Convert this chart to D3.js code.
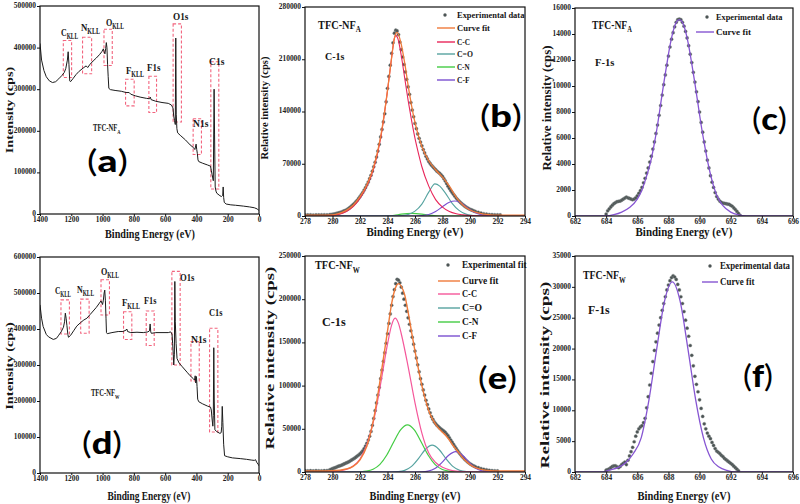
<!DOCTYPE html>
<html><head><meta charset="utf-8">
<script src="https://cdn.jsdelivr.net/npm/d3@7"></script>
<style>body{margin:0;background:#fff}svg{display:block}</style>
</head><body>
<svg id="c" width="800" height="504"></svg>
<script>
// ---------------- DATA ----------------
const surveyXTicks = [1400,1200,1000,800,600,400,200,0];
const ticksYA = [0,100000,200000,300000,400000,500000];
const ticksYD = [0,100000,200000,300000,400000,500000,600000];
const c1sXTicks = [278,280,282,284,286,288,290,292,294];
const f1sXTicks = [682,684,686,688,690,692,694,696];
const ticksYB = [0,70000,140000,210000,280000];
const ticksYC = [0,2000,4000,6000,8000,10000,12000,14000,16000];
const ticksYE = [0,50000,100000,150000,200000,250000];
const ticksYF = [0,5000,10000,15000,20000,25000,30000,35000];

const surveyA = [[1400,410000],[1390,370000],[1375,345000],[1360,330000],[1340,320000],[1320,316000],[1300,318000],[1280,325000],[1260,333000],[1245,340000],[1235,350000],[1225,370000],[1220,390000],[1215,360000],[1210,320000],[1205,318000],[1190,325000],[1170,335000],[1150,343000],[1120,352000],[1105,356000],[1095,352000],[1080,360000],[1060,368000],[1040,375000],[1020,383000],[1005,390000],[995,397000],[990,390000],[985,385000],[980,398000],[976,412000],[972,400000],[968,360000],[964,330000],[960,302000],[950,299000],[920,297000],[880,295000],[850,292000],[830,292000],[820,288000],[790,284000],[760,281000],[720,278000],[700,277000],[695,281000],[690,275000],[660,271000],[620,268000],[580,266000],[560,262000],[550,255000],[545,235000],[540,225000],[535,215000],[532,423000],[529,240000],[525,205000],[520,195000],[500,188000],[470,178000],[440,166000],[420,160000],[410,155000],[402,168000],[398,155000],[394,145000],[390,130000],[385,126000],[360,122000],[330,118000],[310,115000],[305,105000],[300,95000],[292,80000],[287,300000],[284,190000],[280,65000],[275,55000],[270,50000],[250,44000],[240,42000],[232,45000],[229,65000],[226,40000],[222,28000],[210,24000],[180,22000],[150,21000],[100,19000],[60,17000],[30,15000],[10,12000],[0,8000]];

const surveyD = [[1400,467000],[1390,430000],[1380,407000],[1360,385000],[1345,378000],[1315,371000],[1295,374000],[1283,381000],[1265,392000],[1250,405000],[1243,420000],[1238,444000],[1233,430000],[1228,410000],[1222,385000],[1218,377000],[1205,382000],[1185,395000],[1165,408000],[1140,418000],[1120,425000],[1100,430000],[1080,440000],[1060,450000],[1040,460000],[1020,472000],[1010,478000],[1000,468000],[995,480000],[990,500000],[986,508000],[982,480000],[978,430000],[975,390000],[970,387000],[940,390000],[900,393000],[870,393000],[850,397000],[845,400000],[840,393000],[820,390000],[780,391000],[740,390000],[710,392000],[700,395000],[696,414000],[692,392000],[688,388000],[660,390000],[620,390000],[580,390000],[565,392000],[556,386000],[552,360000],[548,330000],[545,300000],[541,330000],[538,532000],[535,420000],[530,360000],[524,318000],[510,305000],[490,295000],[460,280000],[440,270000],[420,262000],[412,258000],[408,270000],[404,250000],[400,268000],[396,240000],[392,205000],[385,198000],[360,192000],[330,186000],[310,183000],[305,175000],[300,150000],[295,130000],[292,160000],[289,348000],[286,200000],[282,120000],[270,115000],[250,110000],[242,112000],[238,130000],[235,185000],[231,140000],[226,80000],[220,48000],[200,45000],[170,42000],[120,40000],[80,38000],[50,36000],[30,35000],[22,37000],[15,30000],[5,24000],[0,20000]];

// dashed boxes: [BE high, BE low, I high, I low]
const boxesA = [[1251,1198,417000,328000],[1128,1070,425000,337000],[991,938,444000,357000],[853,798,324000,260000],[704,655,331000,244000],[549,496,457000,221000],[421,368,229000,143000],[308,257,366000,60000]];
const boxesD = [[1266,1212,481000,386000],[1140,1086,483000,388000],[1010,956,537000,439000],[866,813,448000,371000],[721,670,450000,354000],[557,504,560000,300000],[435,382,365000,256000],[316,263,402000,114000]];

const expB = [[278,1500],[278.2,1400],[278.4,1500],[278.6,1300],[278.8,1500],[279,1400],[279.2,1500],[279.4,1600],[279.6,1500],[279.8,1800],[279.9,2000],[280,2200],[280.1,2600],[280.2,3000],[280.3,3500],[280.4,4000],[280.5,4500],[280.6,5000],[280.7,5700],[280.8,6500],[280.9,7200],[281,8000],[281.1,9200],[281.2,10500],[281.3,12000],[281.4,13500],[281.5,15200],[281.6,17000],[281.7,19000],[281.8,21000],[281.9,23500],[282,26000],[282.1,28700],[282.2,31500],[282.3,34700],[282.4,38000],[282.5,41700],[282.6,45500],[282.7,50000],[282.8,54500],[282.9,60000],[283,66000],[283.1,72000],[283.2,79000],[283.3,87000],[283.4,96000],[283.5,106000],[283.6,116000],[283.7,126000],[283.8,137000],[283.9,153000],[284,171000],[284.1,187000],[284.2,202000],[284.3,218000],[284.4,232000],[284.5,245000],[284.6,249000],[284.7,248000],[284.8,243000],[284.9,233000],[285,223000],[285.1,213000],[285.2,203000],[285.3,193000],[285.4,183000],[285.5,173000],[285.6,163000],[285.7,152000],[285.8,142000],[285.9,133000],[286,124000],[286.1,117000],[286.2,110000],[286.3,104000],[286.4,99000],[286.5,94000],[286.6,89000],[286.7,84500],[286.8,80000],[286.9,76500],[287,73000],[287.1,70500],[287.2,68000],[287.3,66000],[287.4,64000],[287.5,62000],[287.6,60000],[287.7,58500],[287.8,57000],[287.9,55000],[288,53000],[288.1,50000],[288.2,47000],[288.3,43500],[288.4,40000],[288.5,37000],[288.6,34000],[288.7,31500],[288.8,29000],[288.9,26500],[289,24000],[289.1,22000],[289.2,20000],[289.3,18200],[289.4,16500],[289.5,15000],[289.6,13500],[289.7,12200],[289.8,11000],[289.9,10000],[290,9000],[290.1,8200],[290.2,7500],[290.3,6700],[290.4,6000],[290.6,5000],[290.8,4000],[291,3000],[291.2,2500],[291.4,2000],[291.6,1800],[291.8,1600],[292,1500],[292.2,1400]];
const fitB = [[278,1200],[279,1200],[280,1500],[280.5,3500],[281,7500],[281.5,14500],[282,26000],[282.5,42000],[283,66000],[283.5,106000],[284,168000],[284.25,205000],[284.5,238000],[284.7,246000],[285,230000],[285.25,205000],[285.5,175000],[285.75,148000],[286,125000],[286.5,93000],[287,74000],[287.5,62000],[288,52000],[288.5,40000],[289,25000],[289.5,14500],[290,8000],[290.5,4500],[291,2500],[291.5,1600],[292,1300],[293,1200],[294,1200]];
const ccB = [[278,0],[279,0],[280,800],[280.5,2500],[281,6000],[281.5,12500],[282,24000],[282.5,40000],[283,64000],[283.5,104000],[284,168000],[284.25,205000],[284.5,238000],[284.6,242000],[284.75,238000],[285,215000],[285.25,185000],[285.5,155000],[285.75,128000],[286,104000],[286.25,84000],[286.5,66000],[287,40000],[287.5,22000],[288,12000],[288.5,6000],[289,3000],[289.5,1500],[290,500],[291,0],[294,0]];
const coB = [[278,0],[284.5,0],[285,500],[285.5,2000],[286,6500],[286.5,16000],[287,32000],[287.45,43000],[287.8,40000],[288.2,31000],[288.7,17000],[289.2,7500],[289.7,2500],[290.2,700],[290.8,0],[294,0]];
const cnB = [[278,0],[283.5,0],[284,200],[284.5,1000],[285,2500],[285.8,3500],[286.5,2500],[287,1200],[287.5,400],[288,0],[294,0]];
const cfB = [[278,0],[286,0],[286.5,500],[287,2000],[287.5,6000],[288,12500],[288.5,18500],[288.9,20000],[289.3,18000],[289.8,11000],[290.3,5000],[290.8,1800],[291.3,500],[292,0],[294,0]];

const expC = [[684,150],[684.1,400],[684.2,550],[684.3,700],[684.4,830],[684.5,950],[684.6,1030],[684.7,1100],[684.8,1130],[684.9,1150],[685,1220],[685.1,1300],[685.2,1380],[685.3,1450],[685.4,1400],[685.5,1350],[685.6,1300],[685.7,1250],[685.8,1300],[685.9,1400],[686,1550],[686.1,1750],[686.2,1950],[686.3,2200],[686.4,2550],[686.5,2900],[686.6,3300],[686.7,3700],[686.8,4150],[686.9,4600],[687,5150],[687.1,5700],[687.2,6350],[687.3,7000],[687.4,7750],[687.5,8500],[687.6,9300],[687.7,10100],[687.8,10850],[687.9,11600],[688,12300],[688.1,13000],[688.2,13600],[688.3,14100],[688.4,14550],[688.5,14900],[688.6,15100],[688.7,15150],[688.8,15100],[688.9,14900],[689,14600],[689.1,14200],[689.2,13700],[689.3,13100],[689.4,12450],[689.5,11800],[689.6,11050],[689.7,10300],[689.8,9550],[689.9,8800],[690,8000],[690.1,7200],[690.2,6450],[690.3,5700],[690.4,5000],[690.5,4300],[690.6,3700],[690.7,3100],[690.8,2600],[690.9,2200],[691,1800],[691.1,1500],[691.2,1300],[691.3,1150],[691.4,1050],[691.5,1000],[691.6,970],[691.7,950],[691.8,920],[691.9,900],[692,820],[692.1,750],[692.2,620],[692.3,500],[692.4,350],[692.5,200],[692.6,50]];
const fitC = [[682,0],[684,0],[684.5,100],[685,300],[685.5,650],[686,1300],[686.3,2000],[686.5,2700],[686.9,4400],[687.1,5600],[687.3,7000],[687.5,8600],[687.7,10200],[687.9,11700],[688.1,13100],[688.3,14200],[688.5,14900],[688.7,15100],[688.9,14900],[689.1,14200],[689.3,13100],[689.5,11700],[689.7,10200],[689.9,8600],[690.1,7000],[690.3,5600],[690.5,4300],[690.7,3200],[690.9,2300],[691.1,1600],[691.5,800],[692,300],[692.5,80],[693,0],[696,0]];

const expE = [[278,1500],[278.2,1300],[278.4,1500],[278.6,1200],[278.8,1600],[279,1400],[279.2,1300],[279.4,1500],[279.6,1700],[279.8,2500],[279.9,3200],[280,4000],[280.1,4500],[280.2,5000],[280.3,5800],[280.4,6500],[280.5,7000],[280.6,7500],[280.7,8200],[280.8,9000],[280.9,9700],[281,10500],[281.1,11200],[281.2,12000],[281.3,13000],[281.4,14000],[281.5,15000],[281.6,16000],[281.7,17200],[281.8,18500],[281.9,19700],[282,21000],[282.1,22700],[282.2,24500],[282.3,27000],[282.4,30000],[282.5,33300],[282.6,37000],[282.7,41500],[282.8,47000],[282.9,54000],[283,62000],[283.1,71000],[283.2,80000],[283.3,89000],[283.4,98000],[283.5,108000],[283.6,118000],[283.7,128000],[283.8,138000],[283.9,149000],[284,160000],[284.1,172000],[284.2,183000],[284.3,193000],[284.4,203000],[284.5,211000],[284.6,218000],[284.7,223000],[284.8,222000],[284.9,219000],[285,214000],[285.1,207000],[285.2,200000],[285.3,193000],[285.4,186000],[285.5,178500],[285.6,171000],[285.7,163500],[285.8,156000],[285.9,148000],[286,140000],[286.1,132000],[286.2,124000],[286.3,116000],[286.4,108000],[286.5,101500],[286.6,95000],[286.7,89000],[286.8,83000],[286.9,78000],[287,73000],[287.1,68500],[287.2,64000],[287.3,61000],[287.4,58000],[287.5,56000],[287.6,54000],[287.7,52500],[287.8,51000],[287.9,49700],[288,48500],[288.1,47300],[288.2,46000],[288.3,44000],[288.4,42000],[288.5,39500],[288.6,37000],[288.7,34500],[288.8,32000],[288.9,29500],[289,27000],[289.1,24700],[289.2,22500],[289.3,20500],[289.4,18500],[289.5,16700],[289.6,15000],[289.7,13500],[289.8,12000],[289.9,10700],[290,9500],[290.1,8500],[290.2,7500],[290.3,6700],[290.4,6000],[290.6,5000],[290.8,4000],[291,3200],[291.2,2600],[291.4,2000],[291.6,1600],[291.8,1400],[292,1200]];
const fitE = [[278,1200],[279,1200],[280,1500],[281,3500],[281.5,6500],[282,14000],[282.5,30000],[283,62000],[283.5,110000],[284,163000],[284.3,195000],[284.6,214000],[284.8,218000],[285,215000],[285.25,205000],[285.5,185000],[285.75,162000],[286,140000],[286.25,119000],[286.5,100000],[286.75,84000],[287,71000],[287.25,62000],[287.5,55000],[287.75,50000],[288,46000],[288.25,42000],[288.5,37000],[288.75,31000],[289,26000],[289.25,21000],[289.5,16000],[289.75,12000],[290,8500],[290.5,4500],[291,2400],[291.5,1500],[292,1200],[294,1200]];
const ccE = [[278,0],[279,0],[280,500],[281,3000],[281.5,7000],[282,15000],[282.5,32000],[283,60000],[283.5,102000],[284,148000],[284.3,170000],[284.55,178000],[284.8,172000],[285,160000],[285.5,122000],[286,80000],[286.5,45000],[287,22000],[287.5,11000],[288,5500],[288.5,2500],[289,1000],[289.5,400],[290,100],[291,0],[294,0]];
const cnE = [[278,0],[281.5,0],[282,250],[282.45,930],[282.95,3200],[283.45,8900],[283.95,19700],[284.45,34700],[284.95,48700],[285.45,54500],[285.95,48700],[286.45,34700],[286.95,19700],[287.45,8900],[287.95,3200],[288.45,930],[288.95,220],[289.5,0],[294,0]];
const coE = [[278,0],[284.3,0],[284.75,400],[285.25,1950],[285.75,6500],[286.25,15500],[286.75,26100],[287.25,31000],[287.75,26100],[288.25,15500],[288.75,6500],[289.25,1950],[289.75,400],[290.25,50],[290.8,0],[294,0]];
const cfE = [[278,0],[286,0],[286.45,180],[286.95,1030],[287.45,4000],[287.95,10800],[288.45,19300],[288.95,23500],[289.45,19300],[289.95,10800],[290.45,4000],[290.95,1030],[291.45,180],[292,0],[294,0]];

const expF = [[684,300],[684.1,400],[684.2,500],[684.3,700],[684.4,900],[684.5,1000],[684.6,1000],[684.7,850],[684.8,700],[684.9,900],[685,1200],[685.1,1400],[685.2,1600],[685.3,1200],[685.4,1900],[685.5,2600],[685.6,3300],[685.7,4000],[685.8,4900],[685.9,5800],[686,6500],[686.1,7000],[686.2,7300],[686.3,7500],[686.4,8000],[686.5,8700],[686.6,10400],[686.7,12200],[686.8,14100],[686.9,16000],[687,17900],[687.1,19700],[687.2,21100],[687.3,22500],[687.4,23800],[687.5,25000],[687.6,26200],[687.7,27300],[687.8,28400],[687.9,29500],[688,30300],[688.1,31000],[688.2,31500],[688.3,31800],[688.4,31600],[688.5,31200],[688.6,30400],[688.7,29500],[688.8,28400],[688.9,27300],[689,26000],[689.1,24600],[689.2,23300],[689.3,22000],[689.4,20500],[689.5,18900],[689.6,17200],[689.7,15500],[689.8,14200],[689.9,13000],[690,11700],[690.1,10300],[690.2,9000],[690.3,7800],[690.4,7000],[690.5,6300],[690.6,5800],[690.7,5400],[690.8,4800],[690.9,4300],[691,3800],[691.1,3400],[691.2,3200],[691.3,3000],[691.4,2700],[691.5,2500],[691.6,2200],[691.7,2000],[691.8,1800],[691.9,1600],[692,1400],[692.1,1200],[692.2,950],[692.3,700],[692.4,450],[692.5,200]];
const fitF = [[682,0],[683.8,0],[684.2,300],[684.75,700],[685.25,1500],[685.75,3000],[686.25,5540],[686.75,11700],[687.25,20000],[687.75,27700],[688.25,30800],[688.75,27700],[689.25,20000],[689.75,11700],[690.25,5540],[690.75,2110],[691.25,800],[691.75,250],[692.3,0],[696,0]];

// ---------------- DRAWING ----------------
const SERIF = "'Liberation Serif','Times New Roman',serif";
const SANS = "Lato,'Open Sans','Liberation Sans',sans-serif";
const svg = d3.select('#c');
const COL = {orange:'#f07a3a', cc:'#e8265a', ccE:'#f5579a', co:'#56a3a0', cn:'#44cc44', cf:'#7a4fd0', fit:'#8655d2', dot:'#4c5454', box:'#f2647e'};

function txt(parent, o){
  const g = parent.append('g').attr('transform', `translate(${o.x},${o.y})` + (o.rot ? ` rotate(${o.rot})` : ''));
  const t = g.append('text').attr('font-family', o.family || SERIF).attr('font-weight', o.weight || 'bold')
    .attr('font-size', o.size).attr('fill', o.fill || '#151515').attr('text-anchor', o.anchor || 'start');
  o.parts.forEach(p => {
    if (typeof p === 'string') { t.append('tspan').text(p); return; }
    const s = t.append('tspan').text(p.t);
    if (p.sub) s.attr('font-size', o.size * 0.68).attr('dy', o.size * 0.28);
    if (p.w) s.attr('font-weight', p.w);
  });
  if (o.width) {
    const w = t.node().getBBox().width;
    if (w > 0) t.attr('transform', `scale(${o.width / w},1)`);
  }
  return t;
}

let clipId = 0;
function panel(o){
  const g = svg.append('g');
  const x = d3.scaleLinear().domain(o.xdom).range([o.x0, o.x1]);
  const y = d3.scaleLinear().domain([0, o.ymax]).range([o.yBot, o.yTop]);
  const id = 'clip' + (clipId++);
  g.append('clipPath').attr('id', id).append('rect').attr('x', o.x0).attr('y', o.yTop).attr('width', o.x1 - o.x0).attr('height', o.yBot - o.yTop);
  const ax = g.append('g').attr('transform', `translate(0,${o.yBot})`)
    .call(d3.axisBottom(x).tickValues(o.xt).tickSize(2).tickPadding(0).tickSizeOuter(0).tickFormat(d => String(d)));
  const ay = g.append('g').attr('transform', `translate(${o.x0},0)`)
    .call(d3.axisLeft(y).tickValues(o.yt).tickSize(3).tickPadding(1).tickSizeOuter(0).tickFormat(d => String(d)));
  [ax, ay].forEach(a => {
    a.select('.domain').remove();
    a.selectAll('line').attr('stroke', '#111').attr('stroke-width', 1);
    a.selectAll('text').attr('font-family', SERIF).attr('font-weight', 'bold').attr('font-size', 8).attr('fill', '#222')
      .each(function(){ const s = this.textContent; d3.select(this).attr('textLength', s.length * 3.7).attr('lengthAdjust', 'spacingAndGlyphs'); });
  });
  ay.selectAll('text').attr('dy', '0.18em');
  const plot = g.append('g').attr('clip-path', `url(#${id})`);
  g.append('rect').attr('x', o.x0).attr('y', o.yTop).attr('width', o.x1 - o.x0).attr('height', o.yBot - o.yTop)
    .attr('fill', 'none').attr('stroke', '#111').attr('stroke-width', 1.2);
  return {g, plot, x, y};
}

function drawLine(p, data, color, w, curve){
  const line = d3.line().x(d => p.x(d[0])).y(d => p.y(d[1])).curve(curve || d3.curveMonotoneX);
  p.plot.append('path').datum(data).attr('d', line).attr('fill', 'none').attr('stroke', color).attr('stroke-width', w).attr('stroke-linejoin', 'round');
}
function drawDots(p, data, r){
  p.plot.append('g').selectAll('circle').data(data).join('circle')
    .attr('cx', d => p.x(d[0])).attr('cy', d => p.y(d[1])).attr('r', r)
    .attr('fill', COL.dot).attr('stroke', '#7d8585').attr('stroke-width', 0.4);
}
function legend(g, o){
  o.rows.forEach((r, i) => {
    const yy = o.ys[i];
    if (r.dot) g.append('circle').attr('cx', o.dotX).attr('cy', yy).attr('r', 1.7).attr('fill', COL.dot);
    else g.append('line').attr('x1', o.lx0).attr('x2', o.lx1).attr('y1', yy).attr('y2', yy).attr('stroke', r.color).attr('stroke-width', 1.4);
    txt(g, {x: o.tx, y: yy + o.size * 0.33, parts: [r.label], size: o.size, width: r.w});
  });
}
function bigLetter(g, x, y, letter, width){
  txt(g, {x, y, parts: [{t:'(', w:'normal'}, {t:letter, w:'900'}, {t:')', w:'normal'}], size: 30, family: SANS, width, fill:'#000'});
}

// ---------- (a) ----------
const pa = panel({x0:40, x1:259, yTop:6, yBot:214, xdom:[1400,0], ymax:500000, xt:surveyXTicks, yt:ticksYA});
boxesA.forEach(b => pa.plot.append('rect').attr('x', pa.x(b[0])).attr('y', pa.y(b[2])).attr('width', pa.x(b[1]) - pa.x(b[0])).attr('height', pa.y(b[3]) - pa.y(b[2]))
  .attr('fill', 'none').attr('stroke', COL.box).attr('stroke-width', 1.1).attr('stroke-dasharray', '3,2'));
drawLine(pa, surveyA, '#1c1c1c', 1, d3.curveLinear);
const labA = [[61,36,'C','KLL',17],[81,31,'N','KLL',19],[106,26,'O','KLL',18],[126,74,'F','KLL',18],[147,71,'F1s',null,14],[173,20,'O1s',null,16],[193,127,'N1s',null,16],[209,65,'C1s',null,16]];
labA.forEach(l => txt(pa.g, {x:l[0], y:l[1], parts: l[3] ? [l[2], {t:l[3], sub:true}] : [l[2]], size: 11, width: l[4]}));
txt(pa.g, {x:93, y:131, parts:['TFC-NF', {t:'A', sub:true}], size:10.5, width:28});
bigLetter(pa.g, 87, 172, 'a', 41);
txt(pa.g, {x:13, y:110, rot:-90, anchor:'middle', parts:['Intensity (cps)'], size:11, width:87});
txt(pa.g, {x:150, y:238, anchor:'middle', parts:['Binding Energy (eV)'], size:12, width:90});

// ---------- (b) ----------
const pb = panel({x0:305, x1:525, yTop:7, yBot:216, xdom:[278,294], ymax:280000, xt:c1sXTicks, yt:ticksYB});
drawDots(pb, expB, 1.6);
drawLine(pb, cnB, COL.cn, 1.1);
drawLine(pb, coB, COL.co, 1.1);
drawLine(pb, cfB, COL.cf, 1.1);
drawLine(pb, ccB, COL.cc, 1.1);
drawLine(pb, fitB, COL.orange, 1.3);
legend(pb.g, {dotX:445, lx0:437, lx1:455, tx:457, size:9, ys:[15,28,42,54,67,80], rows:[
  {dot:true, label:'Experimental data', w:68}, {color:COL.orange, label:'Curve fit', w:33}, {color:COL.cc, label:'C-C', w:13},
  {color:COL.co, label:'C=O', w:16}, {color:COL.cn, label:'C-N', w:13}, {color:COL.cf, label:'C-F', w:13}]});
txt(pb.g, {x:318, y:29, parts:['TFC-NF', {t:'A', sub:true}], size:12, width:43});
txt(pb.g, {x:325, y:60, parts:['C-1s'], size:11, width:20});
bigLetter(pb.g, 480, 127, 'b', 42);
txt(pb.g, {x:268, y:108, rot:-90, anchor:'middle', parts:['Relative intensity (cps)'], size:10, width:103});
txt(pb.g, {x:415, y:236, anchor:'middle', parts:['Binding Energy (eV)'], size:12.5, width:97});

// ---------- (c) ----------
const pc = panel({x0:575, x1:793, yTop:8, yBot:216, xdom:[682,696], ymax:16000, xt:f1sXTicks, yt:ticksYC});
drawDots(pc, expC, 1.6);
drawLine(pc, fitC, COL.fit, 1.3);
legend(pc.g, {dotX:707, lx0:696, lx1:714, tx:716, size:9, ys:[17,32], rows:[
  {dot:true, label:'Experimental data', w:67}, {color:COL.fit, label:'Curve fit', w:35}]});
txt(pc.g, {x:592, y:29, parts:['TFC-NF', {t:'A', sub:true}], size:12, width:40});
txt(pc.g, {x:595, y:66, parts:['F-1s'], size:11, width:20});
bigLetter(pc.g, 752, 130, 'c', 35);
txt(pc.g, {x:551, y:108, rot:-90, anchor:'middle', parts:['Relative intensity (cps)'], size:12, width:125});
txt(pc.g, {x:684, y:236, anchor:'middle', parts:['Binding Energy (eV)'], size:12.5, width:97});

// ---------- (d) ----------
const pd = panel({x0:40, x1:259, yTop:257, yBot:473, xdom:[1400,0], ymax:600000, xt:surveyXTicks, yt:ticksYD});
boxesD.forEach(b => pd.plot.append('rect').attr('x', pd.x(b[0])).attr('y', pd.y(b[2])).attr('width', pd.x(b[1]) - pd.x(b[0])).attr('height', pd.y(b[3]) - pd.y(b[2]))
  .attr('fill', 'none').attr('stroke', COL.box).attr('stroke-width', 1.1).attr('stroke-dasharray', '3,2'));
drawLine(pd, surveyD, '#1c1c1c', 1, d3.curveLinear);
const labD = [[55,294,'C','KLL',16],[77,293,'N','KLL',17],[101,275,'O','KLL',18],[122,306,'F','KLL',18],[144,304,'F1s',null,13],[180,281,'O1s',null,15],[191,343,'N1s',null,16],[209,316,'C1s',null,14]];
labD.forEach(l => txt(pd.g, {x:l[0], y:l[1], parts: l[3] ? [l[2], {t:l[3], sub:true}] : [l[2]], size: 11, width: l[4]}));
txt(pd.g, {x:91, y:396, parts:['TFC-NF', {t:'W', sub:true}], size:10.5, width:29});
bigLetter(pd.g, 82, 454, 'd', 40);
txt(pd.g, {x:13, y:366, rot:-90, anchor:'middle', parts:['Intensity (cps)'], size:11, width:88});
txt(pd.g, {x:149, y:500, anchor:'middle', parts:['Binding Energy (eV)'], size:12, width:83});

// ---------- (e) ----------
const pe = panel({x0:305, x1:525, yTop:256, yBot:472, xdom:[278,294], ymax:250000, xt:c1sXTicks, yt:ticksYE});
drawDots(pe, expE, 1.6);
drawLine(pe, cnE, COL.cn, 1.2);
drawLine(pe, coE, COL.co, 1.2);
drawLine(pe, cfE, COL.cf, 1.2);
drawLine(pe, ccE, COL.ccE, 1.2);
drawLine(pe, fitE, COL.orange, 1.4);
legend(pe.g, {dotX:448, lx0:438, lx1:460, tx:462, size:10.5, ys:[265,281,294,308,322,336], rows:[
  {dot:true, label:'Experimental fit', w:65}, {color:COL.orange, label:'Curve fit', w:37}, {color:COL.ccE, label:'C-C', w:15},
  {color:COL.co, label:'C=O', w:20}, {color:COL.cn, label:'C-N', w:17}, {color:COL.cf, label:'C-F', w:15}]});
txt(pe.g, {x:315, y:269, parts:['TFC-NF', {t:'W', sub:true}], size:13, width:45});
txt(pe.g, {x:322, y:326, parts:['C-1s'], size:12, width:24});
bigLetter(pe.g, 478, 389, 'e', 39);
txt(pe.g, {x:274, y:358, rot:-90, anchor:'middle', parts:['Relative intensity (cps)'], size:12, width:183});
txt(pe.g, {x:415, y:500, anchor:'middle', parts:['Binding Energy (eV)'], size:13, width:91});

// ---------- (f) ----------
const pf = panel({x0:575, x1:793, yTop:256, yBot:472, xdom:[682,696], ymax:35000, xt:f1sXTicks, yt:ticksYF});
drawDots(pf, expF, 1.6);
drawLine(pf, fitF, COL.fit, 1.3);
legend(pf.g, {dotX:710, lx0:702, lx1:718, tx:720, size:10, ys:[266,282], rows:[
  {dot:true, label:'Experimental data', w:70}, {color:COL.fit, label:'Curve fit', w:35}]});
txt(pf.g, {x:583, y:279, parts:['TFC-NF', {t:'W', sub:true}], size:13, width:43});
txt(pf.g, {x:588, y:314, parts:['F-1s'], size:12, width:22});
bigLetter(pf.g, 743, 387, 'f', 30);
txt(pf.g, {x:549, y:375, rot:-90, anchor:'middle', parts:['Relative intensity (cps)'], size:13, width:187});
txt(pf.g, {x:684, y:500, anchor:'middle', parts:['Binding Energy (eV)'], size:13, width:93});
</script>
</body></html>
